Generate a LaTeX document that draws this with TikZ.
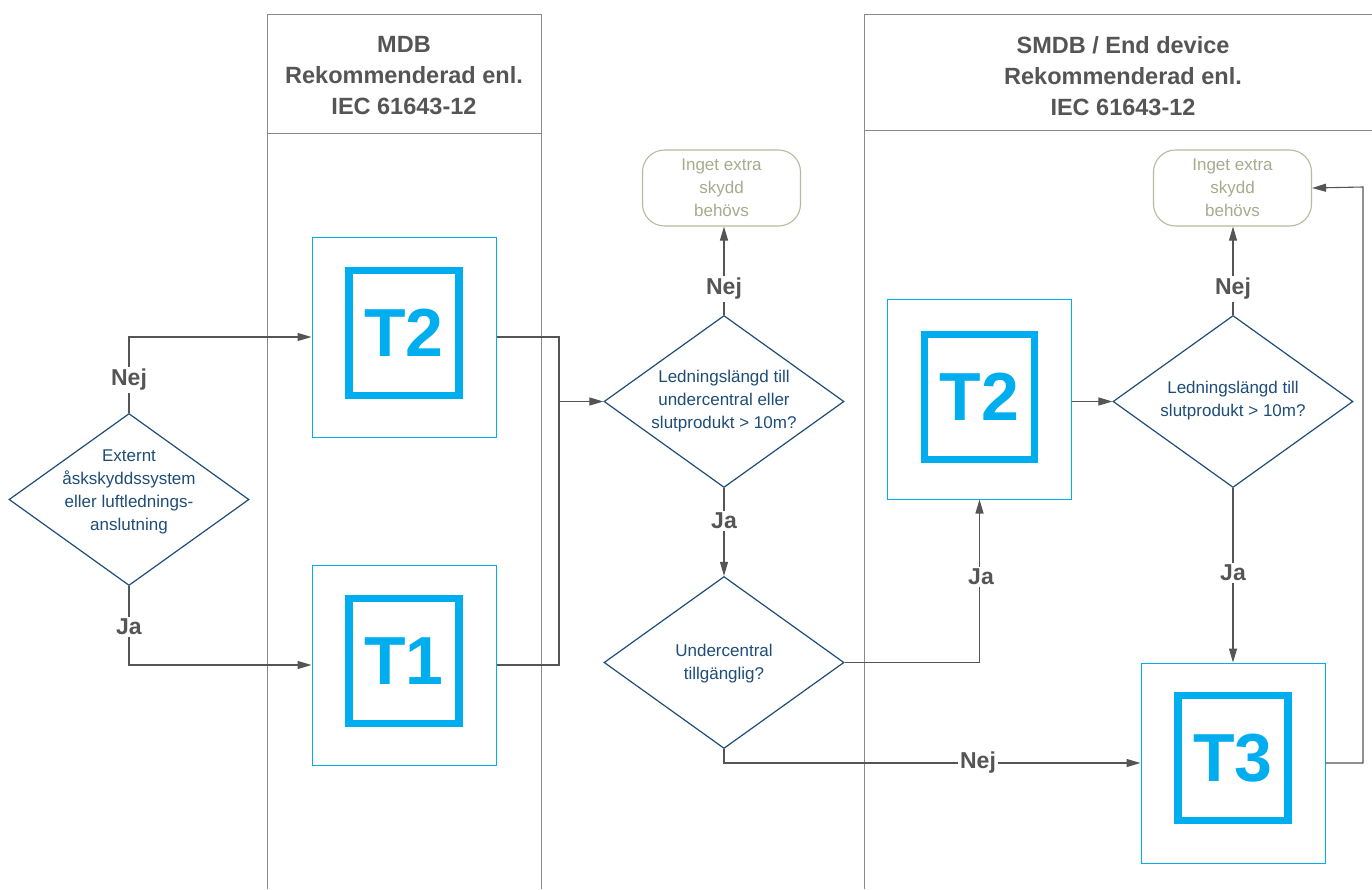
\documentclass[tikz,border=0pt]{standalone}
\usepackage{fontspec}
\setmainfont{Liberation Sans}
\usetikzlibrary{shapes.geometric,arrows.meta}
\definecolor{lanegray}{HTML}{8A8A8A}
\definecolor{linegray}{HTML}{555555}
\definecolor{qblue}{HTML}{1E4D78}
\definecolor{tcyan}{HTML}{00AEEF}
\definecolor{olive}{HTML}{B8BA9E}
\definecolor{olivetext}{HTML}{A7AB8E}
\begin{document}
\begin{tikzpicture}[x=1pt,y=-1pt,
  lane/.style={draw=lanegray,line width=1pt},
  head/.style={font=\fontsize{23.5}{31}\selectfont\bfseries,text=linegray,align=center,inner sep=0pt},
  decision/.style={diamond,draw=qblue,line width=1.2pt,minimum width=240pt,minimum height=172pt,inner sep=0pt},
  qtext/.style={font=\fontsize{17}{23}\selectfont,text=qblue,align=center,inner sep=0pt},
  tbox/.style={rectangle,draw=tcyan,line width=1pt,minimum width=184pt,minimum height=200pt},
  tmark/.style={rectangle,draw=tcyan,line width=7.5pt,minimum width=110pt,minimum height=125pt,inner sep=0pt,text=tcyan,font=\fontsize{68}{68}\selectfont\bfseries},
  endbox/.style={rectangle,rounded corners=22pt,draw=olive,line width=1.1pt,minimum width=158pt,minimum height=76pt,inner sep=0pt,text=olivetext,align=center,font=\fontsize{17}{23}\selectfont},
  lbl/.style={font=\fontsize{23}{23}\selectfont\bfseries,text=linegray,fill=white,inner sep=2pt},
  arr/.style={draw=linegray,line width=1.1pt,-{Triangle[length=14pt,width=8pt]}},
  conn/.style={draw=linegray,line width=1.1pt}]
  \useasboundingbox (0,0) rectangle (1372,889);
  \fill[white] (0,0) rectangle (1372,889);

  % swimlanes
  \draw[lane] (267,889) -- (267,14) -- (541,14) -- (541,889);
  \draw[lane] (267,133) -- (541,133);
  \draw[lane] (864,889) -- (864,14) -- (1372,14);
  \draw[lane] (864,130) -- (1372,130);
  \node[head] (hmdb) at (404,76) {MDB\\Rekommenderad enl.\\IEC 61643-12};
  \node[head] (hsmdb) at (1123,76) {SMDB / End device\\Rekommenderad enl.\\IEC 61643-12};

  % boxes
  \node[tbox] (t2a) at (404,337) {};
  \node[tmark] (t2amark) at (404,333) {T2};
  \node[tbox] (t1) at (404,665) {};
  \node[tmark] (t1mark) at (404,661) {T1};
  \node[tbox] (t2b) at (979.5,399) {};
  \node[tmark] (t2bmark) at (979.5,397) {T2};
  \node[tbox] (t3) at (1233,763) {};
  \node[tmark] (t3mark) at (1233,758) {T3};

  % decisions
  \node[decision] (d1) at (129,499.5) {};
  \node[qtext] (d1t) at (129,492) {Externt\\åskskyddssystem\\eller luftlednings-\\anslutning};
  \node[decision] (d2) at (724,401.5) {};
  \node[qtext] (d2t) at (724,401) {Ledningslängd till\\undercentral eller\\slutprodukt > 10m?};
  \node[decision] (d3) at (724,662.5) {};
  \node[qtext] (d3t) at (724,664) {Undercentral\\tillgänglig?};
  \node[decision] (d4) at (1233,401.5) {};
  \node[qtext] (d4t) at (1233,401) {Ledningslängd till\\slutprodukt > 10m?};

  \node[endbox] (r1) at (721.5,188) {Inget extra\\skydd\\behövs};
  \node[endbox] (r2) at (1232.5,188) {Inget extra\\skydd\\behövs};

  \coordinate (jn) at (559,401.5);
  \coordinate (ret) at (1363,187);

  % connectors
  \draw[arr] (d1.north) |- (t2a.west);
  \draw[arr] (d1.south) |- (t1.west);
  \draw[conn] (t2a.east) -| (jn) |- (t1.east);
  \draw[arr] (jn) -- (d2.west);
  \draw[arr] (d2.north) -- (d2.north |- r1.south);
  \draw[arr] (d2.south) -- (d3.north);
  \draw[arr] (d3.east) -| (t2b.south);
  \draw[arr] (d3.south) |- (t3.west);
  \draw[arr] (t2b.east |- d4.west) -- (d4.west);
  \draw[arr] (d4.north) -- (d4.north |- r2.south);
  \draw[arr] (d4.south) -- (d4.south |- t3.north);
  \draw[arr] (t3.east) -| (ret) -- (r2.east);

  % labels
  \node[lbl] (nej1) at (129,380) {Nej};
  \node[lbl] (ja1) at (129,627) {Ja};
  \node[lbl] (nej2) at (724,289) {Nej};
  \node[lbl] (ja2) at (724,521) {Ja};
  \node[lbl] (ja3) at (981,577) {Ja};
  \node[lbl] (nej3) at (978,763) {Nej};
  \node[lbl] (nej4) at (1233,289) {Nej};
  \node[lbl] (ja4) at (1233,573) {Ja};
\end{tikzpicture}
\end{document}
